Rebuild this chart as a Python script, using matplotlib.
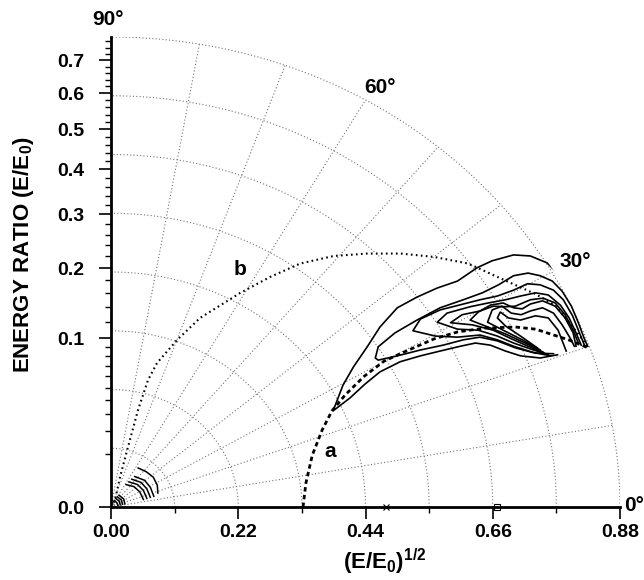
import numpy as np
import matplotlib
matplotlib.use("Agg")
import matplotlib.pyplot as plt
from matplotlib.patches import Circle

plt.rcParams['font.family'] = ['Liberation Sans', 'DejaVu Sans']
plt.rcParams['font.weight'] = 'bold'
plt.rcParams['mathtext.fontset'] = 'custom'
plt.rcParams['mathtext.rm'] = 'Liberation Sans:bold'
plt.rcParams['mathtext.it'] = 'Liberation Sans:bold'
plt.rcParams['mathtext.bf'] = 'Liberation Sans:bold'
plt.rcParams['mathtext.default'] = 'rm'

# ---------------- data (sqrt-energy components: x = sqrt(E/E0) cos(theta), y = sqrt(E/E0) sin(theta))
X_TICKS = [0.00, 0.22, 0.44, 0.66, 0.88]
X_TICK_LABELS = ['0.00', '0.22', '0.44', '0.66', '0.88']
X_MINOR = [0.11, 0.33, 0.55, 0.77]
E_MAJOR = [0.0, 0.1, 0.2, 0.3, 0.4, 0.5, 0.6, 0.7]
E_MAJOR_LABELS = ['0.0', '0.1', '0.2', '0.3', '0.4', '0.5', '0.6', '0.7']
E_MINOR = [0.01, 0.02, 0.03, 0.04, 0.05, 0.06, 0.07, 0.08, 0.09,
           0.12, 0.14, 0.16, 0.18, 0.22, 0.24, 0.26, 0.28,
           0.32, 0.34, 0.36, 0.38, 0.42, 0.44, 0.46, 0.48,
           0.52, 0.54, 0.56, 0.58, 0.62, 0.64, 0.66, 0.68,
           0.72, 0.74, 0.76]
GRID_R = [0.11, 0.22, 0.33, 0.44, 0.55, 0.66, 0.77, 0.88]
GRID_ANG = [10, 20, 30, 40, 50, 60, 70, 80]
R_MAX = 0.88

# curve a (dashed)
A_X = [0.332, 0.337, 0.348, 0.365, 0.382, 0.405, 0.438, 0.472, 0.500, 0.559,
       0.600, 0.647, 0.699, 0.734, 0.754, 0.791, 0.825]
A_Y = [0.000, 0.045, 0.097, 0.144, 0.180, 0.210, 0.245, 0.273, 0.287, 0.315,
       0.328, 0.335, 0.337, 0.333, 0.326, 0.313, 0.298]

# curve b (dotted)
B_X = [0.000, 0.0069, 0.0156, 0.0294, 0.0467, 0.064, 0.0796, 0.1142, 0.154, 0.2232,
       0.2751, 0.327, 0.3851, 0.4429, 0.5012, 0.5588, 0.6176, 0.6747, 0.7336, 0.7682,
       0.7884, 0.8114, 0.8253]
B_Y = [0.000, 0.0131, 0.0562, 0.1124, 0.1816, 0.2378, 0.2697, 0.3127, 0.354, 0.4007,
       0.4307, 0.4558, 0.470, 0.4745, 0.4745, 0.4682, 0.4558, 0.4275, 0.3989, 0.3772,
       0.3502, 0.3189, 0.2978]

# main contour lines
C1_X = [0.772, 0.742, 0.708, 0.682, 0.656, 0.630, 0.604, 0.569, 0.535, 0.500, 0.465, 0.439, 0.413, 0.384,
        0.401, 0.419, 0.443, 0.465, 0.495, 0.529, 0.564, 0.599, 0.633, 0.659, 0.696, 0.725, 0.754, 0.770]
C1_Y = [0.285, 0.279, 0.283, 0.292, 0.303, 0.307, 0.301, 0.292, 0.283, 0.272, 0.253, 0.230, 0.204, 0.180,
        0.228, 0.262, 0.300, 0.337, 0.373, 0.393, 0.410, 0.423, 0.448, 0.461, 0.472, 0.470, 0.457, 0.440]
C2_X = [0.765, 0.734, 0.699, 0.668, 0.638, 0.609, 0.574, 0.535, 0.495, 0.462, 0.457, 0.462, 0.491, 0.529,
        0.569, 0.609, 0.642, 0.670, 0.696, 0.721, 0.742, 0.763, 0.780, 0.796, 0.808, 0.818, 0.824]
C2_Y = [0.287, 0.288, 0.298, 0.311, 0.318, 0.313, 0.303, 0.294, 0.283, 0.275, 0.279, 0.300, 0.326, 0.350,
        0.373, 0.388, 0.401, 0.416, 0.433, 0.438, 0.433, 0.423, 0.404, 0.376, 0.345, 0.316, 0.301]
C3_X = [0.760, 0.728, 0.696, 0.668, 0.638, 0.599, 0.561, 0.522, 0.535, 0.569, 0.609, 0.638, 0.668, 0.696,
        0.720, 0.742, 0.765, 0.782, 0.798, 0.808, 0.817, 0.820]
C3_Y = [0.283, 0.290, 0.301, 0.313, 0.322, 0.318, 0.320, 0.330, 0.352, 0.369, 0.380, 0.388, 0.395, 0.406,
        0.418, 0.416, 0.406, 0.388, 0.358, 0.331, 0.307, 0.300]
C4_X = [0.756, 0.725, 0.696, 0.668, 0.635, 0.599, 0.564, 0.581, 0.621, 0.652, 0.682, 0.708, 0.734, 0.756,
        0.777, 0.792, 0.804, 0.813]
C4_Y = [0.285, 0.296, 0.307, 0.320, 0.331, 0.333, 0.346, 0.363, 0.375, 0.382, 0.388, 0.395, 0.401, 0.397,
        0.378, 0.354, 0.326, 0.303]
C5_X = [0.751, 0.721, 0.690, 0.661, 0.625, 0.587, 0.607, 0.638, 0.661, 0.682, 0.699, 0.725, 0.747, 0.768,
        0.785, 0.799, 0.808]
C5_Y = [0.287, 0.301, 0.316, 0.331, 0.341, 0.345, 0.360, 0.367, 0.376, 0.375, 0.376, 0.388, 0.391, 0.382,
        0.360, 0.331, 0.307]
C6_X = [0.747, 0.716, 0.682, 0.647, 0.621, 0.635, 0.656, 0.678, 0.696, 0.711, 0.725, 0.746, 0.768, 0.785,
        0.799, 0.804]
C6_Y = [0.290, 0.307, 0.324, 0.339, 0.350, 0.365, 0.378, 0.382, 0.373, 0.371, 0.380, 0.386, 0.376, 0.354,
        0.326, 0.301]
C7_X = [0.742, 0.711, 0.678, 0.651, 0.659, 0.676, 0.692, 0.709, 0.725, 0.746, 0.765, 0.780, 0.794, 0.801]
C7_Y = [0.294, 0.313, 0.331, 0.346, 0.369, 0.376, 0.363, 0.360, 0.367, 0.373, 0.363, 0.341, 0.316, 0.301]
C8_X = [0.737, 0.708, 0.682, 0.668, 0.673, 0.687, 0.708, 0.734, 0.756, 0.773, 0.787]
C8_Y = [0.298, 0.320, 0.339, 0.354, 0.365, 0.354, 0.350, 0.358, 0.354, 0.331, 0.292]

# small contours near the origin
S0_X = [0.047, 0.061, 0.073, 0.080, 0.081]
S0_Y = [0.073, 0.066, 0.056, 0.041, 0.026]
S1_X = [0.026, 0.040, 0.050, 0.056]
S1_Y = [0.042, 0.038, 0.028, 0.014]
S2_X = [0.031, 0.046, 0.056, 0.062]
S2_Y = [0.047, 0.042, 0.031, 0.016]
S3_X = [0.036, 0.052, 0.062, 0.068]
S3_Y = [0.052, 0.046, 0.034, 0.018]
S4_X = [0.041, 0.058, 0.068, 0.074]
S4_Y = [0.057, 0.050, 0.037, 0.020]
T1_X = [0.006, 0.010, 0.012]
T1_Y = [0.012, 0.008, 0.003]
T2_X = [0.008, 0.014, 0.016]
T2_Y = [0.016, 0.011, 0.004]
T3_X = [0.011, 0.018, 0.020]
T3_Y = [0.019, 0.013, 0.005]
T4_X = [0.014, 0.022, 0.024]
T4_Y = [0.022, 0.015, 0.006]

CROSS_X = [0.475]
SQUARE_X = [0.667]

# ---------------- figure
fig = plt.figure(figsize=(6.44, 5.80), dpi=100)
ax = fig.add_axes([111/644, 73/580, 509/644, 470/580])
ax.set_xlim(0, R_MAX)
ax.set_ylim(0, R_MAX)

for s in ['top', 'right']:
    ax.spines[s].set_visible(False)
for s in ['left', 'bottom']:
    ax.spines[s].set_linewidth(2.0)
    ax.spines[s].set_zorder(5)

# grid
th = np.linspace(0, np.pi/2, 300)
for r in GRID_R:
    ax.plot(r*np.cos(th), r*np.sin(th), color='0.45', lw=0.8, ls=(0, (1, 2)), zorder=1)
for a in GRID_ANG:
    t = np.deg2rad(a)
    ax.plot([0, R_MAX*np.cos(t)], [0, R_MAX*np.sin(t)], color='0.45', lw=0.8, ls=(0, (1, 2)), zorder=1)

clip = Circle((0, 0), R_MAX + 0.004, transform=ax.transData, fc='none', ec='none')
ax.add_patch(clip)

# contours
for cx, cy in [(C1_X, C1_Y), (C2_X, C2_Y), (C3_X, C3_Y), (C4_X, C4_Y), (C5_X, C5_Y),
               (C6_X, C6_Y), (C7_X, C7_Y), (C8_X, C8_Y)]:
    ln, = ax.plot(cx, cy, color='k', lw=1.2, solid_joinstyle='round', zorder=3)
    ln.set_clip_path(clip)
for cx, cy in [(S0_X, S0_Y), (S1_X, S1_Y), (S2_X, S2_Y), (S3_X, S3_Y), (S4_X, S4_Y),
               (T1_X, T1_Y), (T2_X, T2_Y), (T3_X, T3_Y), (T4_X, T4_Y)]:
    ax.plot(cx, cy, color='k', lw=1.1, zorder=3)

# curves a and b
ax.plot(A_X, A_Y, color='k', lw=2.0, ls=(0, (1.6, 1.2)), zorder=4)
ax.plot(B_X, B_Y, color='k', lw=1.5, ls=(0, (0.8, 1.6)), zorder=4)

# markers on the axis
ax.plot(CROSS_X, [0]*len(CROSS_X), 'x', color='k', ms=4, mew=0.8, clip_on=False, zorder=6)
ax.plot(SQUARE_X, [0]*len(SQUARE_X), 's', mfc='none', mec='k', ms=4, mew=0.8, clip_on=False, zorder=6)

# ticks
ax.set_xticks(X_TICKS)
ax.set_xticklabels(X_TICK_LABELS)
ax.set_xticks(X_MINOR, minor=True)
ax.set_yticks(np.sqrt(E_MAJOR))
ax.set_yticklabels(E_MAJOR_LABELS)
ax.set_yticks(np.sqrt(E_MINOR), minor=True)
ax.tick_params(which='major', direction='out', length=8.5, width=1.2, labelsize=14)
ax.tick_params(which='minor', direction='out', length=4.5, width=1.0)
ax.tick_params(axis='x', which='major', pad=4)
ax.tick_params(axis='y', which='major', pad=11)
for lab in ax.get_xticklabels() + ax.get_yticklabels():
    lab.set_fontweight('bold')

# labels
ax.text(-0.005, 0.912, '90°', fontsize=15, fontweight='bold', ha='center', va='center', clip_on=False)
ax.text(0.465, 0.785, '60°', fontsize=15, fontweight='bold', ha='center', va='center')
ax.text(0.803, 0.459, '30°', fontsize=15, fontweight='bold', ha='center', va='center')
ax.text(0.887, 0.003, '0°', fontsize=15, fontweight='bold', ha='left', va='center', clip_on=False)
ax.text(0.379, 0.103, 'a', fontsize=15, fontweight='bold', ha='center', va='center')
ax.text(0.223, 0.444, 'b', fontsize=15, fontweight='bold', ha='center', va='center')

fig.text(24/644, 1 - 255/580, 'ENERGY RATIO (E/E$_0$)', rotation=90, fontsize=16,
         fontweight='bold', ha='center', va='center')
fig.text(385/644, 1 - 562/580, '(E/E$_0$)$^{1/2}$', fontsize=16, fontweight='bold',
         ha='center', va='center')

fig.savefig('out.png', dpi=100)
